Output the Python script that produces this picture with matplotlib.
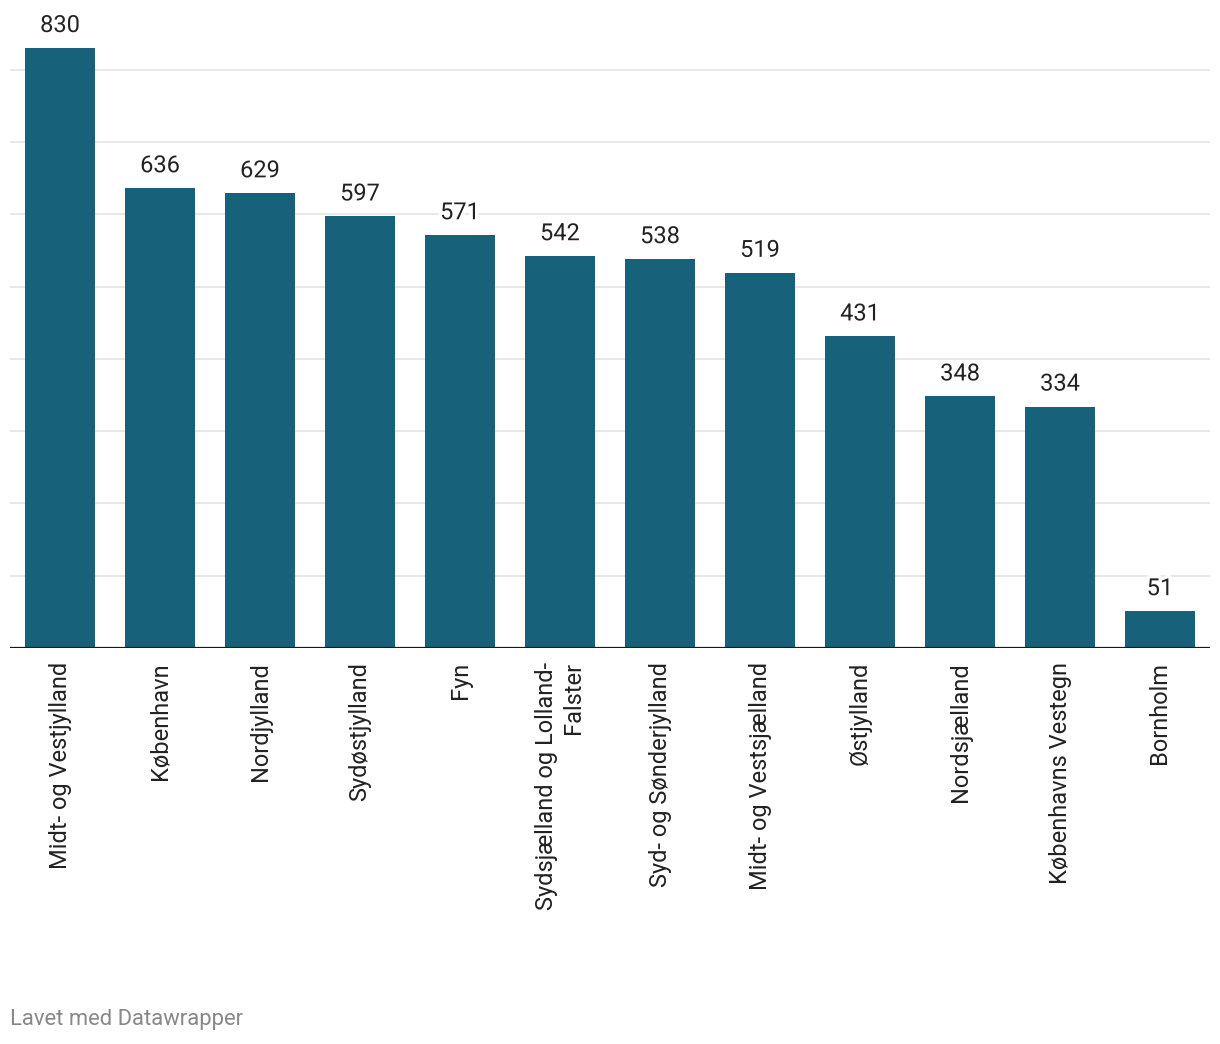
import matplotlib.pyplot as plt
import matplotlib.patheffects as pe

plt.rcParams["font.family"] = ["Roboto", "DejaVu Sans"]

regions = [
    "Midt- og Vestjylland", "København", "Nordjylland", "Sydøstjylland", "Fyn",
    "Sydsjælland og Lolland-\nFalster", "Syd- og Sønderjylland", "Midt- og Vestsjælland",
    "Østjylland", "Nordsjælland", "Københavns Vestegn", "Bornholm",
]
values = [830, 636, 629, 597, 571, 542, 538, 519, 431, 348, 334, 51]
grid_values = [100, 200, 300, 400, 500, 600, 700, 800]

W, H = 1220, 1044
fig = plt.figure(figsize=(W / 100, H / 100), dpi=100)
ax = fig.add_axes([10 / W, 396 / H, 1200 / W, 600 / H])

x = list(range(len(values)))
ax.bar(x, values, width=0.7, color="#17617a", zorder=2)
for g in grid_values:
    ax.axhline(g, color="#e4e4e4", lw=1.2, zorder=1)
ax.axhline(0, color="#1a1a1a", lw=1.6, zorder=3)

for xi, v in zip(x, values):
    ax.annotate(str(v), (xi, v), xytext=(0, 11.5), textcoords="offset points",
                ha="center", va="baseline", fontsize=17, color="#222222",
                annotation_clip=False, zorder=4,
                path_effects=[pe.withStroke(linewidth=5, foreground="white")])

# category labels, rotated, hanging just below the baseline
for xi, name in zip(x, regions):
    ax.annotate(name, (xi, 0), xytext=(0, -10), textcoords="offset points",
                rotation=90, ha="center", va="top", multialignment="right",
                fontsize=17, color="#222222", annotation_clip=False)

ax.set_xlim(-0.5, 11.5)
ax.set_ylim(0, 830)
ax.axis("off")

fig.text(10 / W, 1 - 1020 / H, "Lavet med Datawrapper", ha="left", va="center",
         fontsize=15.8, color="#888888")

fig.savefig("out.png", dpi=100)
